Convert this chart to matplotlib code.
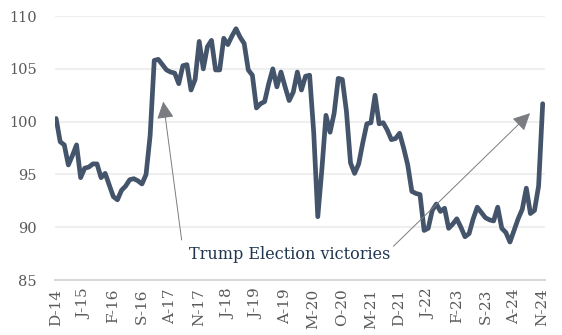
import numpy as np
import matplotlib
matplotlib.use('Agg')
import matplotlib.pyplot as plt

# monthly index, Dec 2014 - Nov 2024
values = [100.3, 98.1, 97.8, 95.9, 96.8, 97.8, 94.7, 95.6, 95.7, 96.0,
          96.0, 94.7, 95.1, 94.0, 92.9, 92.6, 93.5, 93.9, 94.5, 94.6,
          94.4, 94.1, 95.0, 98.7, 105.8, 105.9, 105.4, 104.9, 104.7, 104.6,
          103.6, 105.3, 105.4, 103.0, 104.0, 107.6, 105.0, 107.1, 107.7, 104.9,
          104.9, 107.9, 107.3, 108.1, 108.8, 108.0, 107.4, 104.9, 104.4, 101.3,
          101.7, 101.9, 103.6, 105.0, 103.3, 104.7, 103.3, 102.0, 102.8, 104.7,
          103.0, 104.3, 104.4, 99.0, 91.0, 95.5, 100.6, 99.0, 100.8, 104.1,
          104.0, 101.0, 96.1, 95.1, 96.0, 98.0, 99.8, 99.9, 102.5, 99.8,
          99.9, 99.2, 98.3, 98.4, 98.9, 97.5, 95.9, 93.4, 93.2, 93.1,
          89.7, 89.9, 91.6, 92.2, 91.5, 91.8, 89.9, 90.3, 90.8, 90.0,
          89.1, 89.4, 90.8, 91.9, 91.4, 90.9, 90.7, 90.6, 91.9, 89.9,
          89.5, 88.6, 89.7, 90.8, 91.7, 93.7, 91.3, 91.6, 93.9, 101.7]

tick_labels = ['D-14', 'J-15', 'F-16', 'S-16', 'A-17', 'N-17', 'J-18', 'J-19', 'A-19',
               'M-20', 'O-20', 'M-21', 'D-21', 'J-22', 'F-23', 'S-23', 'A-24', 'N-24']
yticks = [85, 90, 95, 100, 105, 110]

plt.rcParams['font.family'] = ['DejaVu Serif']

fig = plt.figure(figsize=(5.62, 3.35), dpi=100)
ax = fig.add_axes([0.098, 0.164, 0.872, 0.788])

x = np.arange(len(values))
ax.plot(x, values, color='#44546a', linewidth=3.4, solid_joinstyle='round', solid_capstyle='round', zorder=3)

ax.set_ylim(85, 110)
ax.set_xlim(-0.25, 119.6)
ax.set_yticks(yticks)
ax.set_xticks(x[::7])
ax.set_xticklabels(tick_labels, rotation=90)

ax.grid(True, axis='y', color='#efefef', linewidth=1.5)
ax.set_axisbelow(True)
for s in ['top', 'right', 'left']:
    ax.spines[s].set_visible(False)
ax.spines['bottom'].set_color('#d9d9d9')
ax.spines['bottom'].set_linewidth(1.5)
ax.tick_params(length=0, colors='#595959', labelsize=10.5)
ax.tick_params(axis='y', pad=13)
ax.tick_params(axis='x', pad=6, labelsize=11)

arrow = dict(arrowstyle='-|>,head_length=0.7,head_width=0.35', color='#7a7c82',
             lw=0.7, mutation_scale=15, shrinkA=0, shrinkB=0)
ax.annotate('', xy=(26.2, 101.9), xytext=(30.7, 88.8), arrowprops=arrow)
ax.annotate('', xy=(115.9, 100.8), xytext=(82.5, 88.2), arrowprops=arrow)
ax.text(57.2, 87.4, 'Trump Election victories', ha='center', va='center',
        color='#1f3550', fontsize=11.5)

plt.savefig('out.png', dpi=100)
